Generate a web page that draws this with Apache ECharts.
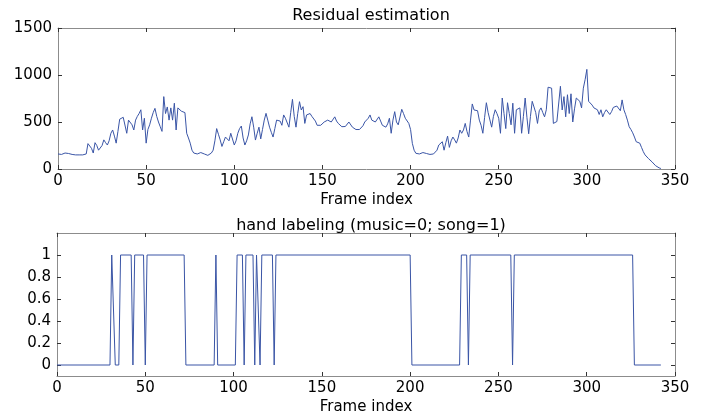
<!DOCTYPE html>
<html>
<head>
<meta charset="utf-8">
<script src="https://cdn.jsdelivr.net/npm/echarts@6/dist/echarts.min.js"></script>
<style>html,body{margin:0;padding:0;background:#fff}#c{width:712px;height:420px}</style>
</head>
<body>
<div id="c"></div>
<script>
// Residual estimation, frames 0..99
var residualA = [160,165,155,160,170,155,165,160,155,165,150,160,150,145,150,155,160,270,265,220,
170,280,250,200,185,250,310,280,255,300,380,415,350,275,400,530,545,550,540,380,
520,540,470,415,520,560,590,630,415,540,275,420,470,540,600,645,560,500,450,400,
770,590,660,520,650,520,700,415,650,630,615,605,600,380,330,275,200,170,165,160,
170,175,165,160,170,145,140,170,200,300,430,370,310,240,290,340,320,300,380,360];
// frames 100..199
var residualB = [255,300,380,430,457,330,255,300,362,480,556,445,308,380,445,320,420,520,592,520,
445,390,340,430,520,540,510,465,575,540,520,445,600,741,560,445,592,716,628,663,
485,575,560,590,560,540,510,465,470,465,480,500,490,520,540,500,520,555,510,485,
470,450,445,452,470,500,480,445,440,420,410,420,430,460,500,510,540,575,520,510,
500,520,555,510,465,455,445,480,540,380,520,610,500,470,465,635,590,540,520,485];
// frames 200..342
var residualC = [420,273,200,167,175,160,167,175,160,165,150,155,150,160,167,200,255,270,290,200,
280,350,230,300,340,310,275,330,415,380,415,485,400,340,520,692,628,625,620,520,
465,380,550,705,600,590,445,560,630,590,540,380,755,590,430,705,590,470,700,380,
630,640,650,380,560,755,550,375,560,720,660,600,485,620,650,600,555,630,870,865,
860,485,500,505,520,880,628,770,555,790,590,800,500,640,755,770,720,650,860,950,
1060,720,700,680,650,640,630,580,630,555,600,630,610,580,610,655,660,670,660,620,
735,630,580,520,450,420,385,340,290,285,275,230,185,150,130,110,90,75,55,35,
25,12,5];
// hand labeling (music=0; song=1) : vertices
var labelFrames = [0,30,31,32,33,35,36,42,43,44,49,50,51,72,73,89,90,91,101,102,
105,106,107,111,112,113,114,115,116,122,123,124,200,201,228,229,232,233,234,257,
258,259,326,327,342];
var labelValues = [0,0,1,1,0,0,1,1,0,1,1,0,1,1,0,0,1,0,0,1,
1,0,1,1,0,1,1,0,1,1,0,1,1,0,0,1,1,0,1,1,
0,1,1,0,0];
var xTicks = [0,50,100,150,200,250,300,350];
var yTicksTop = [0,500,1000,1500];
var yTicksBottom = [0,0.2,0.4,0.6,0.8,1];
var titleTop = 'Residual estimation';
var titleBottom = 'hand labeling (music=0; song=1)';
var xName = 'Frame index';

var residual = residualA.concat(residualB, residualC);
var residualPairs = residual.map(function(v, i){ return [i, v]; });
var labelPairs = labelFrames.map(function(f, i){ return [f, labelValues[i]]; });

var FONT = 'DejaVu Sans, sans-serif';
var AX = '#8c8c8c';
var LINE = '#3a55a6';

function plain(v){ return String(v); }

function xAx(grid, pos, labels, name){
  return {
    type:'value', gridIndex:grid, position:pos, min:0, max:350,
    axisLine:{show:true, onZero:false, lineStyle:{color:AX, width:1}},
    axisTick:{show:true, inside:true, length:4, customValues:xTicks, lineStyle:{color:'#333'}},
    axisLabel:{show:labels, customValues:xTicks, formatter:plain, color:'#000', fontSize:15, fontFamily:FONT, margin:5},
    splitLine:{show:false},
    name: name || '', nameLocation:'middle', nameGap:24,
    nameTextStyle:{color:'#000', fontSize:15, fontFamily:FONT}
  };
}
function yAx(grid, pos, labels, min, max, ticks){
  return {
    type:'value', gridIndex:grid, position:pos, min:min, max:max,
    axisLine:{show:true, onZero:false, lineStyle:{color:AX, width:1}},
    axisTick:{show:true, inside:true, length:4, customValues:ticks, lineStyle:{color:'#333'}},
    axisLabel:{show:labels, customValues:ticks, formatter:plain, color:'#000', fontSize:15, fontFamily:FONT, margin:6},
    splitLine:{show:false}
  };
}

var chart = echarts.init(document.getElementById('c'), null, {renderer:'canvas'});
chart.setOption({
  animation:false,
  backgroundColor:'#fff',
  title:[
    {text:titleTop, left:366, top:3, textAlign:'center', textStyle:{fontSize:16, fontWeight:'normal', color:'#000', fontFamily:FONT}},
    {text:titleBottom, left:366, top:213, textAlign:'center', textStyle:{fontSize:16, fontWeight:'normal', color:'#000', fontFamily:FONT}}
  ],
  grid:[
    {left:58, right:37, top:28, height:141},
    {left:57, right:37, top:233, height:143}
  ],
  xAxis:[
    xAx(0,'bottom',true,xName),
    xAx(0,'top',false),
    xAx(1,'bottom',true,xName),
    xAx(1,'top',false)
  ],
  yAxis:[
    yAx(0,'left',true,0,1500,yTicksTop),
    yAx(0,'right',false,0,1500,yTicksTop),
    yAx(1,'left',true,-0.1,1.2,yTicksBottom),
    yAx(1,'right',false,-0.1,1.2,yTicksBottom)
  ],
  series:[
    {type:'line', xAxisIndex:0, yAxisIndex:0, data:residualPairs, showSymbol:false, symbol:'none',
     lineStyle:{color:LINE, width:1}},
    {type:'line', xAxisIndex:2, yAxisIndex:2, data:labelPairs, showSymbol:false, symbol:'none',
     lineStyle:{color:LINE, width:1}}
  ]
});
</script>
</body>
</html>
